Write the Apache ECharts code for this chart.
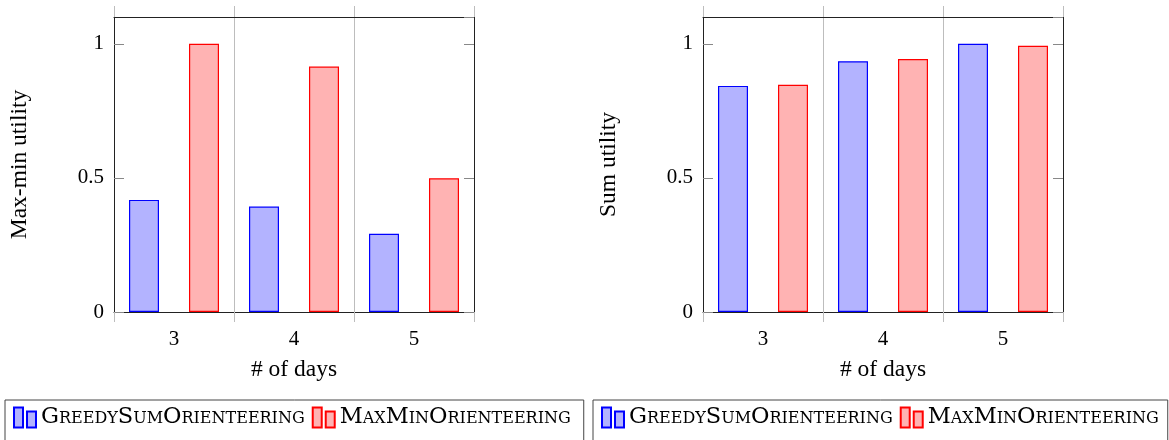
<!DOCTYPE html>
<html>
<head>
<meta charset="utf-8">
<script src="https://cdn.jsdelivr.net/npm/echarts@6/dist/echarts.min.js"></script>
<style>
html,body{margin:0;padding:0;background:#fff;}
#chart{width:1169px;height:440px;}
</style>
</head>
<body>
<div id="chart"></div>
<script>
// ---- data ----
const categories = ['3', '4', '5'];
const seriesNames = ['GreedySumOrienteering', 'MaxMinOrienteering'];
const maxMinGreedy = [0.418, 0.393, 0.292];
const maxMinMaxMin = [1.0, 0.915, 0.499];
const sumGreedy = [0.843, 0.935, 1.0];
const sumMaxMin = [0.847, 0.943, 0.993];
const yMin = 0, yMax = 1.1, yInterval = 0.5;
const leftTitle = 'Max-min utility';
const rightTitle = 'Sum utility';
const xTitle = '# of days';

// ---- style ----
const SERIF = '"Liberation Serif", "Times New Roman", serif';
const LEG_FONT = '"DejaVu Serif", serif';
const BOX = '#222';
const GRIDC = '#bdbdbd';
const TICKC = '#888';
const BLUE = {fill: '#b3b3ff', stroke: '#0000ff'};
const RED = {fill: '#ffb3b3', stroke: '#ff0000'};

const grids = [
  {left: 114, top: 17, width: 360, height: 295},
  {left: 703, top: 17, width: 360, height: 295}
];

function xAxes(gi) {
  return [
    {
      type: 'category', gridIndex: gi, position: 'bottom', data: categories,
      axisLine: {show: true, onZero: false, lineStyle: {color: BOX, width: 1}},
      axisTick: {show: true, length: 10, lineStyle: {color: GRIDC}},
      splitLine: {show: true, interval: 0, lineStyle: {color: GRIDC, width: 1}},
      axisLabel: {show: true, margin: 17, fontFamily: SERIF, fontSize: 21, color: '#000'},
      name: xTitle, nameLocation: 'middle', nameGap: 46,
      nameTextStyle: {fontFamily: SERIF, fontSize: 23.5, color: '#000'}
    },
    {
      type: 'category', gridIndex: gi, position: 'top', data: categories,
      axisLine: {show: true, onZero: false, lineStyle: {color: BOX, width: 1}},
      axisTick: {show: true, length: 11, lineStyle: {color: GRIDC}},
      splitLine: {show: false},
      axisLabel: {show: false}
    }
  ];
}

function yAxes(gi, title) {
  return [
    {
      type: 'value', gridIndex: gi, position: 'left', min: yMin, max: yMax, interval: yInterval,
      axisLine: {show: true, onZero: false, lineStyle: {color: BOX, width: 1}},
      axisTick: {show: true, inside: true, length: 10, lineStyle: {color: TICKC}},
      splitLine: {show: false},
      axisLabel: {show: true, margin: 10, showMaxLabel: false, fontFamily: SERIF, fontSize: 21, color: '#000'},
      name: title, nameLocation: 'middle', nameGap: 82,
      nameTextStyle: {fontFamily: SERIF, fontSize: 23.5, color: '#000'}
    },
    {
      type: 'value', gridIndex: gi, position: 'right', min: yMin, max: yMax, interval: yInterval,
      axisLine: {show: true, onZero: false, lineStyle: {color: BOX, width: 1}},
      axisTick: {show: true, inside: true, length: 10, lineStyle: {color: TICKC}},
      splitLine: {show: false},
      axisLabel: {show: false}
    }
  ];
}

function bar(name, data, xi, yi, c) {
  return {
    type: 'bar', name: name, data: data, xAxisIndex: xi, yAxisIndex: yi,
    barWidth: 30, barGap: '100%',
    itemStyle: {color: c.fill, borderColor: c.stroke, borderWidth: 1.2},
    emphasis: {disabled: true}
  };
}

const ICON = 'path://M0,0H9V20H0Z M13,4H22V20H13Z';

function legend(left, padRight) {
  return {
    left: left, top: 400, width: 600, orient: 'horizontal',
    data: seriesNames, icon: ICON, itemWidth: 22, itemHeight: 20, itemGap: 7,
    borderColor: '#444', borderWidth: 1, borderRadius: 0,
    padding: [6, padRight, 40, 8],
    selectedMode: false,
    textStyle: {fontFamily: LEG_FONT, fontSize: 22.5, fontStyle: 'small-caps', color: '#000'}
  };
}

const chart = echarts.init(document.getElementById('chart'), null, {renderer: 'canvas'});
chart.setOption({
  animation: false,
  backgroundColor: '#fff',
  grid: grids,
  xAxis: [...xAxes(0), ...xAxes(1)],
  yAxis: [...yAxes(0, leftTitle), ...yAxes(1, rightTitle)],
  legend: [legend(5, 13), legend(593, 9)],
  series: [
    bar(seriesNames[0], maxMinGreedy, 0, 0, BLUE),
    bar(seriesNames[1], maxMinMaxMin, 0, 0, RED),
    bar(seriesNames[0], sumGreedy, 2, 2, BLUE),
    bar(seriesNames[1], sumMaxMin, 2, 2, RED)
  ]
});
</script>
</body>
</html>
